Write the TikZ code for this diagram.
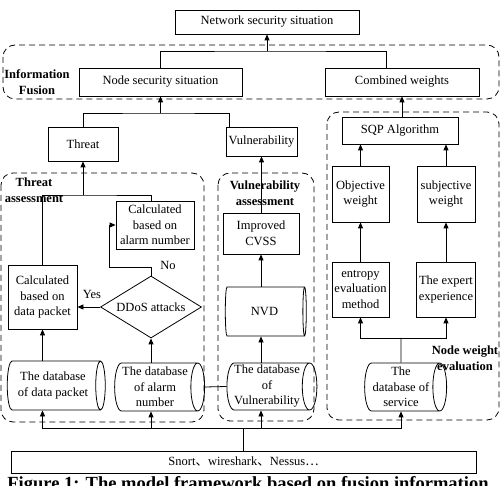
\documentclass[tikz,border=0pt]{standalone}
\usepackage{fontspec}
\setmainfont{Liberation Serif}
\newfontfamily\cjk{Noto Sans CJK SC}
\usepackage{tikz}
\usetikzlibrary{arrows.meta,positioning,shapes.geometric}

\begin{document}
\begin{tikzpicture}[x=1pt, y=-1pt, line width=0.8pt, every node/.style={font=\fontsize{12.5}{15.5}\selectfont}, box/.style={draw, align=center, inner sep=1pt}, db/.style={draw, cylinder, align=center, shape aspect=.33, inner sep=1pt}, zone/.style={draw, dash pattern=on 6pt off 4pt, rounded corners=12pt}, tag/.style={font=\fontsize{12.5}{15.5}\selectfont\bfseries, align=center}, arr/.style={-{Triangle[length=6pt,width=5pt]}}]
\useasboundingbox (0,0) rectangle (504,486);
\draw[zone] (3,45) rectangle (499,99);
\draw[zone] (1,173) rectangle (204,422);
\draw[zone] (218,173) rectangle (314,421);
\draw[zone] (327,112) rectangle (499,420);
\node[box, minimum width=184pt, minimum height=24pt] (net) at (267,22) {Network security situation};
\node[tag] (fusionlbl) at (37,82) {Information\\Fusion};
\node[box, minimum width=163pt, minimum height=28pt] (nodesec) at (160.5,82) {Node security situation};
\node[box, minimum width=154pt, minimum height=28pt] (comb) at (402,82) {Combined weights};
\node[box, minimum width=70pt, minimum height=34pt] (threat) at (83,144) {Threat};
\node[box, minimum width=71pt, minimum height=29pt] (vul) at (261.5,141.5) {Vulnerability};
\node[tag] (threatlbl) at (34,190) {Threat\\assessment};
\node[box, minimum width=78pt, minimum height=48pt] (alarmcalc) at (155,225) {Calculated\\based on\\alarm number};
\node[box, minimum width=69pt, minimum height=64pt] (packetcalc) at (42.5,297) {Calculated\\based on\\data packet};
\node[draw, diamond, shape aspect=1.6, inner sep=0pt, minimum width=101pt, minimum height=62pt] (ddos) at (151,307) {DDoS attacks};
\node (yes) at (92,294) {Yes};
\node (no) at (168,265) {No};
\node[db, minimum height=98pt, minimum width=49pt] (packetdb) at (53,385.5) {The database\\of data packet};
\node[db, minimum height=90pt, minimum width=48pt] (alarmdb) at (155,387) {The database\\of alarm\\number};
\node[tag] (vullbl) at (265,193) {Vulnerability\\assessment};
\node[box, minimum width=76pt, minimum height=41pt] (cvss) at (261,233.5) {Improved\\CVSS};
\node[db, minimum height=81pt, minimum width=49pt] (nvd) at (264.5,311.5) {NVD};
\node[db, minimum height=90pt, minimum width=47pt] (vulndb) at (267,386.5) {The database\\of\\Vulnerability};
\node[box, minimum width=116pt, minimum height=27pt] (sqp) at (400,130.5) {SQP Algorithm};
\node[box, minimum width=57pt, minimum height=56pt] (objw) at (360.5,194) {Objective\\weight};
\node[box, minimum width=58pt, minimum height=56pt] (subjw) at (446,194) {subjective\\weight};
\node[box, minimum width=57pt, minimum height=55pt] (entropy) at (360.5,289.5) {entropy\\evaluation\\method};
\node[box, minimum width=59pt, minimum height=55pt] (expert) at (446,289.5) {The expert\\experience};
\node[db, minimum height=82pt, minimum width=48pt] (servdb) at (401,387) {The\\database of\\service};
\node[tag] (nodewlbl) at (465,358) {Node weight\\evaluation};
\node[box, minimum width=465pt, minimum height=22pt] (tools) at (243.5,462) {Snort{\cjk 、}wireshark{\cjk 、}Nessus{\cjk …}};
\node[font=\fontsize{18.5}{22}\selectfont\bfseries, anchor=base west, inner sep=0pt] (caption) at (7,490) {Figure 1: The model framework based on fusion information};
\coordinate (fuse) at (267,51);
\draw (nodesec.north) |- (fuse) -| ([xshift=-16pt]comb.north);
\draw[arr] (fuse) -- (net);
\coordinate (split) at (160.5,113);
\draw[arr] (split) -- (nodesec);
\draw (threat.north) |- (split) -| ([xshift=3.5pt]vul.north west);
\coordinate (tsplit) at (83,195);
\draw[arr] (tsplit) -- (threat);
\draw (packetcalc.north) |- (tsplit) -| (ddos.north |- alarmcalc.north);
\coordinate (nobend) at (109,267);
\draw[arr] (ddos.north) |- (nobend) |- (alarmcalc.west);
\draw[arr] (ddos.west) -- (packetcalc.east |- ddos.west);
\draw[arr] (packetcalc.south |- packetdb.north) -- (packetcalc.south);
\draw[arr] (ddos.south |- alarmdb.north) -- (ddos.south);
\draw (alarmdb.east) -- (vulndb.west);
\draw[arr] (vul.south |- cvss.north) -- (vul.south);
\draw[arr] (cvss.south |- nvd.north) -- (cvss.south);
\draw[arr] (cvss.south |- vulndb.north) -- (cvss.south |- nvd.south);
\draw[arr] (comb.south |- sqp.north) -- (comb.south);
\draw[arr] (objw.north) -- (objw.north |- sqp.south);
\draw[arr] (subjw.north) -- (subjw.north |- sqp.south);
\draw[arr] (entropy) -- (objw);
\draw[arr] (expert) -- (subjw);
\coordinate (wsplit) at (401,338);
\draw (servdb.north) -- (wsplit);
\draw[arr] (wsplit) -| (entropy.south);
\draw[arr] (wsplit) -| (expert.south);
\coordinate (collect) at (243.5,428);
\draw (tools.north) -- (collect);
\draw[arr] (collect) -| (packetdb.south -| packetcalc.south);
\draw[arr] (collect) -| (alarmdb.south -| ddos.south);
\draw[arr] (collect) -| (vulndb.south -| cvss.south);
\draw[arr] (collect) -| (servdb.south);
\end{tikzpicture}
\end{document}
